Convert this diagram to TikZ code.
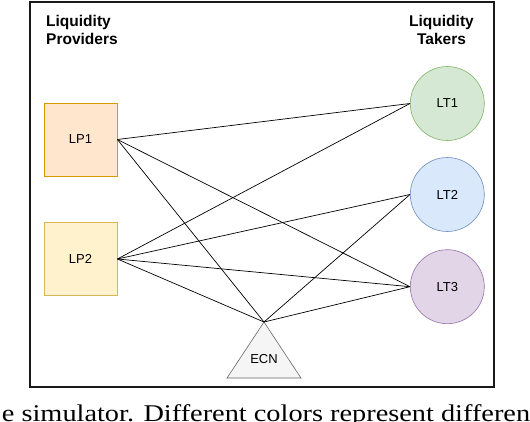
\documentclass[tikz,border=0pt]{standalone}
\usepackage{fontspec}
\setmainfont{Liberation Sans}
\newfontfamily\captionfont{Liberation Serif}
\usetikzlibrary{positioning,shapes}
\definecolor{lpfillA}{HTML}{FFE6CC}
\definecolor{lpdrawA}{HTML}{D79B00}
\definecolor{lpfillB}{HTML}{FFF2CC}
\definecolor{lpdrawB}{HTML}{D6B656}
\definecolor{ltfillA}{HTML}{D5E8D4}
\definecolor{ltdrawA}{HTML}{82B366}
\definecolor{ltfillB}{HTML}{DAE8FC}
\definecolor{ltdrawB}{HTML}{6C8EBF}
\definecolor{ltfillC}{HTML}{E1D5E7}
\definecolor{ltdrawC}{HTML}{9673A6}
\definecolor{ecnfill}{HTML}{F5F5F5}
\definecolor{ecndraw}{HTML}{666666}
\tikzset{
  provider/.style={rectangle, line width=0.8pt, minimum size=73pt, inner sep=0pt,
    font=\fontsize{13}{15}\selectfont},
  taker/.style={circle, line width=0.6pt, minimum size=74pt, inner sep=0pt,
    font=\fontsize{13}{15}\selectfont},
  market/.style={line width=0.6pt, draw=ecndraw, fill=ecnfill},
  link/.style={draw=black, line width=0.7pt},
  heading/.style={inner sep=0pt, font=\fontsize{15.5}{18}\selectfont\bfseries}
}

\begin{document}
\begin{tikzpicture}[x=1pt, y=-1pt]
  \useasboundingbox (0,0) rectangle (530,422);
  \draw[line width=1.2pt, draw=black!90] (30,2) rectangle (494,387);
  %%
  \node[heading, anchor=north west, align=left] (provtitle) at (46,15.4) {Liquidity\\Providers};
  \node[heading, anchor=north, align=center] (taketitle) at (441.5,15.4) {Liquidity\\Takers};
  %%
  \node[provider, draw=lpdrawA, fill=lpfillA] (lp1) at (80.5,139.5) {LP1};
  \node[provider, draw=lpdrawB, fill=lpfillB] (lp2) at (80.5,259) {LP2};
  %%
  \node[taker, draw=ltdrawA, fill=ltfillA] (lt1) at (447.3,103.5) {LT1};
  \node[taker, draw=ltdrawB, fill=ltfillB] (lt2) at (447.3,194.5) {LT2};
  \node[taker, draw=ltdrawC, fill=ltfillC] (lt3) at (447.3,286.7) {LT3};
  %%
  \draw[market] (227,378) -- (264,322) -- (301,378) -- cycle;
  \coordinate (ecn) at (264,322);
  \node[font=\fontsize{13}{15}\selectfont] (ecnlabel) at (264,359) {ECN};
  %%
  \draw[link] (lp1.east) -- (lt1.west);
  \draw[link] (lp1.east) -- (lt3.west);
  \draw[link] (lp1.east) -- (ecn);
  \draw[link] (lp2.east) -- (lt1.west);
  \draw[link] (lp2.east) -- (lt2.west);
  \draw[link] (lp2.east) -- (lt3.west);
  \draw[link] (lp2.east) -- (ecn);
  \draw[link] (ecn) -- (lt2.west);
  \draw[link] (ecn) -- (lt3.west);
  %%
  \node[anchor=base west, inner sep=0pt, xscale=1.18, transform shape,
    font=\captionfont\fontsize{24}{28}\selectfont] (caption) at (1.7,421)
    {e simulator. Different colors represent differen};
\end{tikzpicture}
\end{document}
